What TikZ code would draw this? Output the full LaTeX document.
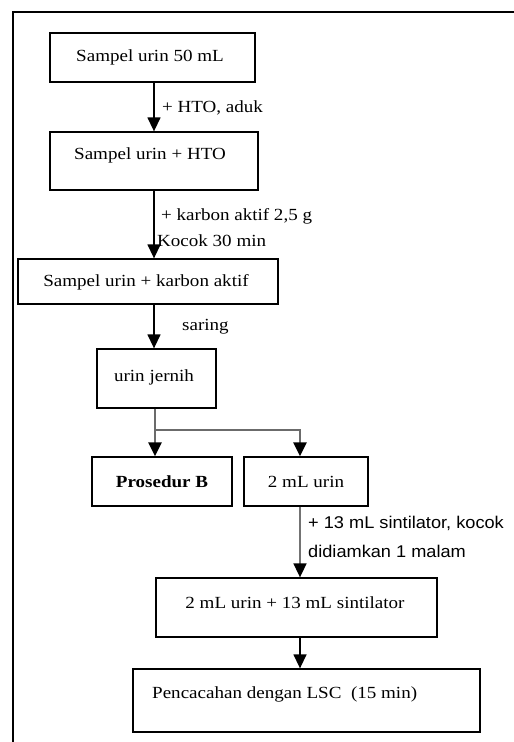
\documentclass[tikz,border=0pt]{standalone}
\usepackage{fontspec}
\setmainfont{Liberation Serif}[FakeStretch=1.12]
\newfontfamily\notesans{Liberation Sans}[FakeStretch=1.07]
\usetikzlibrary{arrows.meta}
\begin{document}
\begin{tikzpicture}[x=1pt,y=-1pt,
  box/.style={draw=black, line width=1.3pt, rectangle, inner sep=0pt},
  txt/.style={inner sep=0pt, anchor=base, font=\fontsize{17}{20}\selectfont},
  note/.style={inner sep=0pt, anchor=base west, font=\fontsize{17}{20}\selectfont},
  sansnote/.style={inner sep=0pt, anchor=base west, font=\notesans\fontsize{17}{20}\selectfont},
  flow/.style={line width=1.4pt, -{Triangle[width=13pt,length=14pt]}},
  branch/.style={draw=black!58, line width=2.6pt, -{Triangle[width=13pt,length=14pt,color=black]}},
  thinbranch/.style={draw=black!55, line width=1.7pt, -{Triangle[width=13pt,length=14pt,color=black]}}
]
\useasboundingbox (0,0) rectangle (514,742);

% outer frame (top and left edges)
\draw[line width=1.3pt] (13,742) -- (13,12) -- (514,12);

% boxes
\node[box, minimum width=205pt, minimum height=49pt] (b1) at (152.5,57.5) {};
\node[box, minimum width=208pt, minimum height=58pt] (b2) at (154,161) {};
\node[box, minimum width=260pt, minimum height=45pt] (b3) at (148,281.5) {};
\node[box, minimum width=119pt, minimum height=59pt] (b4) at (156.5,378.5) {};
\node[box, minimum width=140pt, minimum height=49pt] (b5) at (162,481.5) {};
\node[box, minimum width=124pt, minimum height=49pt] (b6) at (306,481.5) {};
\node[box, minimum width=281pt, minimum height=59pt] (b7) at (296.5,607.5) {};
\node[box, minimum width=347pt, minimum height=63pt] (b8) at (306.5,700.5) {};

% box texts
\node[txt] (t1) at (150,61) {Sampel urin 50 mL};
\node[txt] (t2) at (150,159) {Sampel urin + HTO};
\node[txt] (t3) at (146,286) {Sampel urin + karbon aktif};
\node[txt] (t4) at (154,381) {urin jernih};
\node[txt, font=\fontsize{17}{20}\selectfont\bfseries] (t5) at (162,487) {Prosedur B};
\node[txt] (t6) at (306,487) {2 mL urin};
\node[txt] (t7) at (295,608) {2 mL urin + 13 mL sintilator};
\node[note] (t8) at (152,698) {Pencacahan dengan LSC\ \ (15 min)};

% columns used by the connectors
\coordinate (colA) at (154,0);
\coordinate (colB) at (155,0);
\coordinate (colC) at (300,0);
\coordinate (split) at (155,430);

% main flow
\draw[flow] (b1.south -| colA) -- (b2.north -| colA);
\draw[flow] (b2.south -| colA) -- (b3.north -| colA);
\draw[flow] (b3.south -| colA) -- (b4.north -| colA);
\draw[branch] (b4.south -| colB) -- (split) -- (split -| colC) -- (b6.north -| colC);
\draw[branch] (split) -- (b5.north -| colB);
\draw[thinbranch] (b6.south -| colC) -- (b7.north -| colC);
\draw[flow] (b7.south -| colC) -- (b8.north -| colC);

% connector notes
\node[note] (n1) at (162,112) {+ HTO, aduk};
\node[note] (n2) at (161,220) {+ karbon aktif 2,5 g};
\node[note] (n3) at (157,246) {Kocok 30 min};
\node[note] (n4) at (182,330) {saring};
\node[sansnote] (n5) at (308,528) {+ 13 mL sintilator, kocok};
\node[sansnote] (n6) at (308,557) {didiamkan 1 malam};
\end{tikzpicture}
\end{document}
